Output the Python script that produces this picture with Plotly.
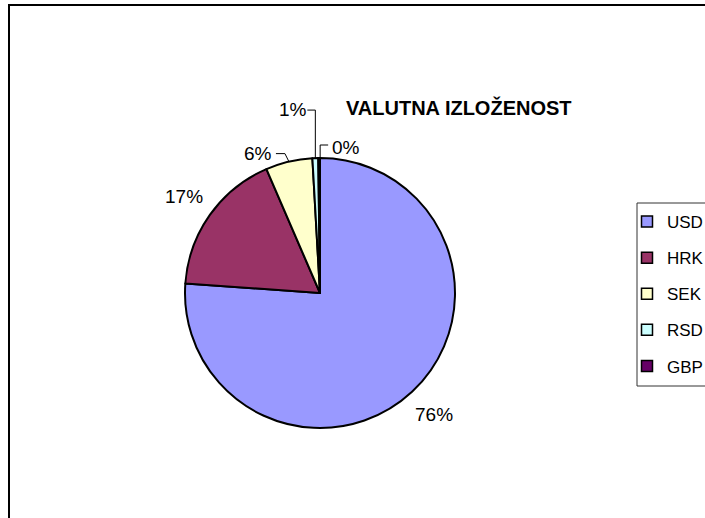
import math
import plotly.graph_objects as go

# ---- data ----
currencies = ["USD", "HRK", "SEK", "RSD", "GBP"]
shares = [76.2, 17.4, 5.6, 0.7, 0.2]
colors = ["#9999FF", "#993366", "#FFFFCC", "#CCFFFF", "#660066"]
title_text = "VALUTNA IZLOŽENOST"

# ---- layout constants (pixels) ----
W, H = 705, 518
CX, CY, R = 320, 293, 135
FONT = "Liberation Sans, Arial, sans-serif"

def px(x):
    return x / W

def py(y):
    return 1 - y / H

fig = go.Figure()
fig.add_trace(go.Pie(
    labels=currencies, values=shares, sort=False, direction="clockwise",
    rotation=0, textinfo="none", hoverinfo="label+percent",
    marker=dict(colors=colors, line=dict(color="black", width=2)),
    domain=dict(x=[px(CX - R), px(CX + R)], y=[py(CY + R), py(CY - R)]),
    showlegend=False,
))

# dummy traces for legend entries
for i, (c, col) in enumerate(zip(currencies, colors)):
    fig.add_trace(go.Scatter(
        x=[None], y=[None], mode="markers", name=c, legendgroup=c,
        marker=dict(symbol="square", size=11, color=col,
                    line=dict(color="black", width=1.5)),
    ))

# label placement: None -> radial outside; else (dx, dy) offset of text centre
# from slice edge point plus leader path offsets
label_style = [
    None,
    None,
    dict(text=(-31, -8), path=[(-13, -8), (-4, -8), (0, 0)]),
    dict(text=(-22, -49), path=[(-8, -48), (0, -48), (0, 0)]),
    dict(text=(27, -11), path=[(9, -13), (1, -13), (1, 0)]),
]

total = sum(shares)
cum = 0.0
annotations = []
shapes = []
for v, st in zip(shares, label_style):
    frac = v / total
    mid = (cum + frac / 2) * 2 * math.pi
    cum += frac
    dx, dy = math.sin(mid), -math.cos(mid)
    pct = f"{round(frac * 100)}%"
    if st is None:
        tx, ty = CX + 1.235 * R * dx, CY + 1.235 * R * dy
    else:
        ex, ey = CX + R * dx, CY + R * dy
        tx, ty = ex + st["text"][0], ey + st["text"][1]
        pts = [(ex + a, ey + b) for a, b in st["path"]]
        d = "M " + " L ".join(f"{px(a)},{py(b)}" for a, b in pts)
        shapes.append(dict(type="path", xref="paper", yref="paper", path=d,
                           line=dict(color="black", width=1)))
    annotations.append(dict(x=px(tx), y=py(ty), xref="paper", yref="paper",
                            text=pct, showarrow=False, xanchor="center",
                            yanchor="middle",
                            font=dict(family=FONT, size=19, color="black")))

annotations.append(dict(x=px(459), y=py(107), xref="paper", yref="paper",
                        text=f"<b>{title_text}</b>", showarrow=False,
                        xanchor="center", yanchor="middle",
                        font=dict(family=FONT, size=20, color="black")))

# chart area frame
shapes.append(dict(type="rect", xref="paper", yref="paper",
                   x0=px(9), y0=py(530), x1=px(720), y1=py(5),
                   line=dict(color="black", width=2)))
# legend frame
shapes.append(dict(type="rect", xref="paper", yref="paper",
                   x0=px(637), y0=py(386), x1=px(720), y1=py(203),
                   line=dict(color="#333333", width=1), fillcolor="white",
                   layer="below"))

fig.update_layout(
    width=W, height=H, margin=dict(l=0, r=0, t=0, b=0, autoexpand=False),
    paper_bgcolor="white", plot_bgcolor="rgba(0,0,0,0)",
    xaxis=dict(visible=False), yaxis=dict(visible=False),
    showlegend=True,
    legend=dict(x=px(627), y=py(204), xanchor="left", yanchor="top",
                bgcolor="rgba(0,0,0,0)", borderwidth=0, tracegroupgap=11,
                font=dict(family=FONT, size=17, color="black")),
    annotations=annotations, shapes=shapes,
)

fig.write_html("out.html", config={"displayModeBar": False},
               post_script="document.body.style.margin='0';document.body.style.overflow='hidden';")
